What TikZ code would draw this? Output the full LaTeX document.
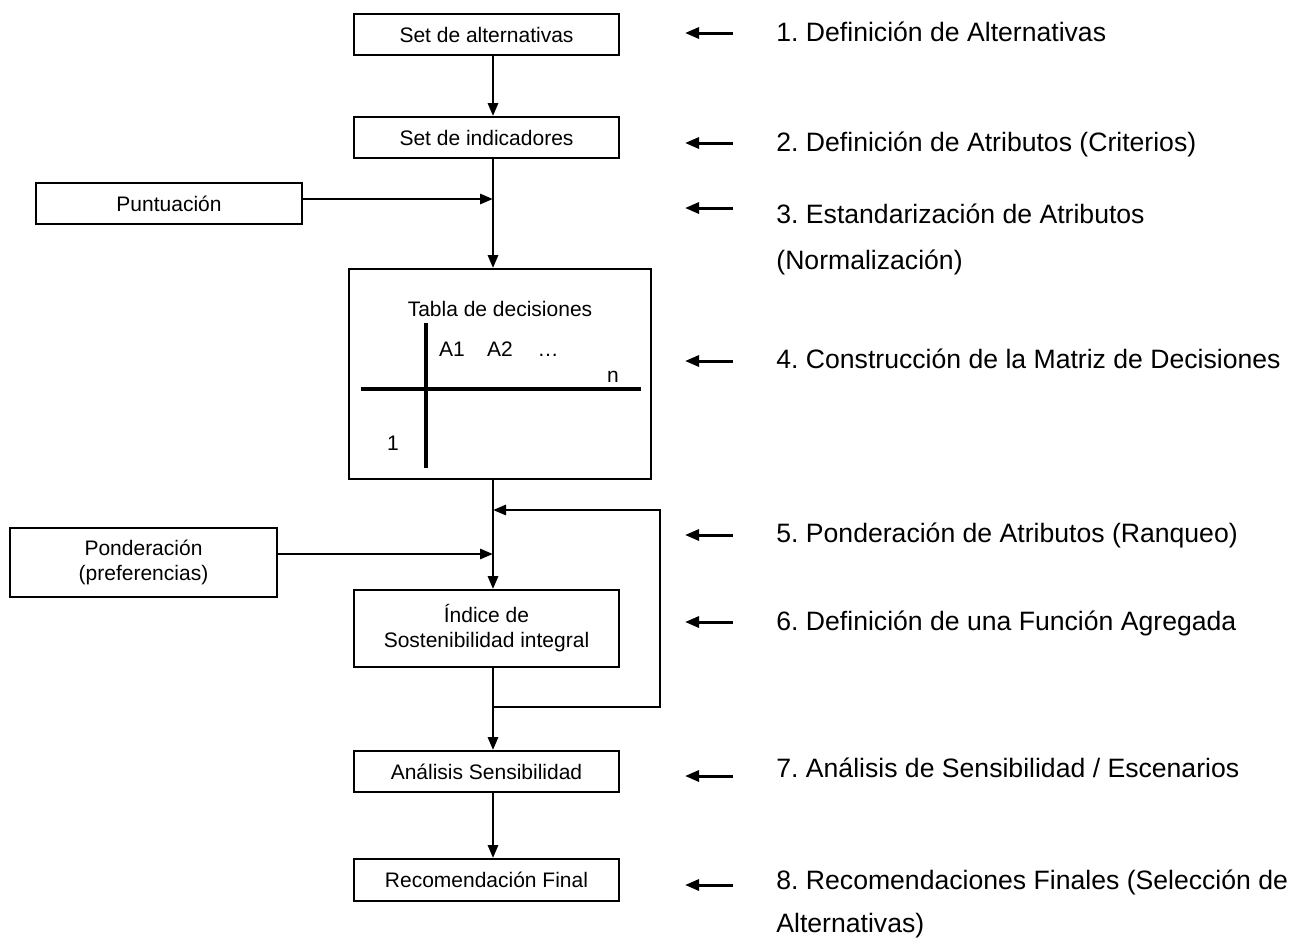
\documentclass[tikz,border=0pt]{standalone}
\usepackage{fontspec}
\setmainfont{Liberation Sans}
\usetikzlibrary{arrows.meta}
\frenchspacing

\begin{document}
\begin{tikzpicture}[x=0.5pt, y=-0.5pt, >={Triangle[length=6.5pt,width=5pt]},
  caja/.style={draw, line width=0.9pt, inner sep=0pt, align=center,
    minimum width=132.5pt, minimum height=20.5pt, font=\fontsize{10.5}{12.5}\selectfont},
  flujo/.style={line width=1.4pt, ->},
  punta/.style={line width=1.5pt, -{Triangle[length=7pt,width=5.5pt]}},
  paso/.style={anchor=base west, inner sep=0pt, font=\fontsize{13.3}{16}\selectfont},
  celda/.style={anchor=base, inner sep=0pt, font=\fontsize{10.5}{12.5}\selectfont}]

  \useasboundingbox (0,0) rectangle (1291,938);

  % cajas del proceso
  \node[caja] (alt) at (486.5,34.5) {Set de alternativas};
  \node[caja] (ind) at (486.5,137.5) {Set de indicadores};
  \node[caja, minimum width=133pt] (pun) at (169,203.5) {Puntuación};
  \node[caja, minimum width=151pt, minimum height=105pt] (dec) at (500,374) {};
  \node[caja, minimum width=133.5pt, minimum height=34.5pt] (pon) at (143.5,562.5) {Ponderación\\(preferencias)};
  \node[caja, minimum height=38.5pt] (isi) at (486.5,628.5) {Índice de\\Sostenibilidad integral};
  \node[caja] (ana) at (486.5,771.5) {Análisis Sensibilidad};
  \node[caja, minimum height=21pt] (rec) at (486.5,880) {Recomendación Final};

  % tabla de decisiones
  \node[celda] (tit) at (500,316) {Tabla de decisiones};
  \node[celda] (a1) at (452,356) {A1};
  \node[celda] (a2) at (500,356) {A2};
  \node[celda] (pts) at (548,356) {…};
  \node[celda] (cn) at (613,382) {n};
  \node[celda] (f1) at (393,450) {1};
  \draw[line width=2.2pt] (426,323) -- (426,468);
  \draw[line width=2.2pt] (361,389) -- (641,389);

  % flechas
  \coordinate (eje) at (493,0);
  \coordinate (retA) at (660,510);
  \coordinate (retB) at (660,707);
  \coordinate (pin) at ([yshift=2.25pt]pun.east);
  \coordinate (pon2) at ([yshift=4.25pt]pon.east);

  \draw[flujo] (alt.south -| eje) -- (ind.north -| eje);
  \draw[flujo] (ind.south -| eje) -- (dec.north -| eje);
  \draw[flujo] (pin) -- (pin -| eje);
  \draw[flujo] (dec.south -| eje) -- (isi.north -| eje);
  \draw[flujo] (pon2) -- (pon2 -| eje);
  \draw[flujo] (isi.south -| eje) -- (ana.north -| eje);
  \draw[flujo] (retB -| eje) -- (retB) -- (retA) -- (retA -| eje);
  \draw[flujo] (ana.south -| eje) -- (rec.north -| eje);

  % pasos
  \node[paso] (p1) at (776,41) {1. Definición de Alternativas};
  \node[paso] (p2) at (776,151) {2. Definición de Atributos (Criterios)};
  \node[paso] (p3) at (776,223) {3. Estandarización de Atributos};
  \node[paso] (p3b) at (776,269) {(Normalización)};
  \node[paso] (p4) at (776,368) {4. Construcción de la Matriz de Decisiones};
  \node[paso] (p5) at (776,542) {5. Ponderación de Atributos (Ranqueo)};
  \node[paso] (p6) at (776,630) {6. Definición de una Función Agregada};
  \node[paso] (p7) at (776,777) {7. Análisis de Sensibilidad / Escenarios};
  \node[paso] (p8) at (776,889) {8. Recomendaciones Finales (Selección de};
  \node[paso] (p8b) at (776,932) {Alternativas)};

  \foreach \y in {33,143,208,361,535,622,776,885}
    \draw[punta] (733,\y) -- (685,\y);

\end{tikzpicture}
\end{document}
